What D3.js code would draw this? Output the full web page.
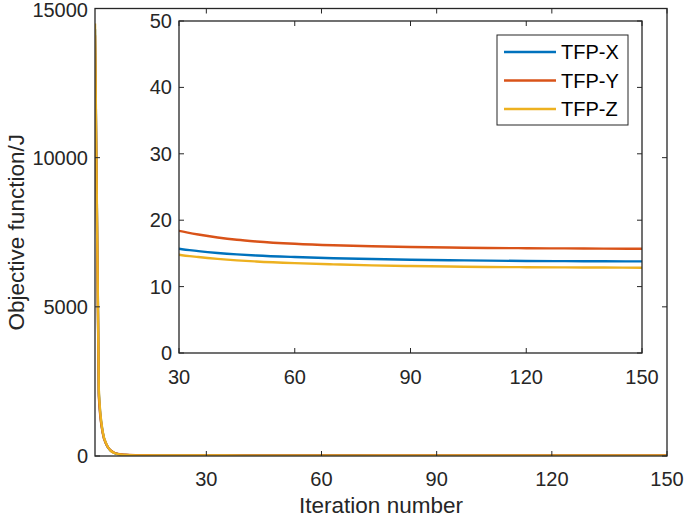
<!DOCTYPE html>
<html><head><meta charset="utf-8">
<script src="https://cdn.jsdelivr.net/npm/d3@7"></script>
<style>html,body{margin:0;padding:0;background:#fff;}svg{display:block;font-family:"Liberation Sans",Arial,Helvetica,sans-serif;}</style>
</head><body>
<svg id="chart" width="685" height="519"></svg>
<script>
const iterations = [1,2,3,4,5,6,7,8,9,10,12,15,20,25,30,35,40,45,50,60,70,80,90,100,110,120,130,140,150];
const tfpX = [14300,2100,800,380,190,105,65,45,35,29,23,19.5,17.5,16.3,15.7,15.35,15.07,14.85,14.68,14.45,14.28,14.15,14.05,13.97,13.91,13.86,13.83,13.81,13.8];
const tfpY = [14100,2000,780,380,195,110,70,50,40,33,27,23,20.5,19.1,18.4,17.85,17.4,17.05,16.8,16.45,16.22,16.07,15.96,15.88,15.82,15.78,15.75,15.72,15.7];
const tfpZ = [14500,2200,820,390,190,100,62,43,33,27,21.5,18.5,16.4,15.4,14.8,14.45,14.17,13.95,13.78,13.53,13.35,13.2,13.1,13.02,12.96,12.92,12.89,12.87,12.85];
const seriesNames = ["TFP-X","TFP-Y","TFP-Z"];
const seriesColors = ["#0072BD","#D95319","#EDB120"];
const mainXTicks = [30,60,90,120,150];
const mainYTicks = [0,5000,10000,15000];
const insetXTicks = [30,60,90,120,150];
const insetYTicks = [0,10,20,30,40,50];

const series = [tfpX,tfpY,tfpZ].map((vals,i)=>({name:seriesNames[i],color:seriesColors[i],
  pts: iterations.map((it,j)=>({x:it,y:vals[j]}))}));

const svg = d3.select("#chart");
const axisCol = "#262626";
const tickFont = 20;

const M = {l:95, r:667, t:8.5, b:456};
const x = d3.scaleLinear().domain([1,150]).range([M.l,M.r]);
const y = d3.scaleLinear().domain([0,15000]).range([M.b,M.t]);

function drawBox(g, xs, ys, xt, yt, tl, fs, opts){
  const [x0,x1] = xs.range(), [y0,y1] = ys.range();
  const ax = g.append("g");
  xt.forEach(v=>{
    const px = xs(v);
    ax.append("line").attr("x1",px).attr("x2",px).attr("y1",y0).attr("y2",y0-tl).attr("stroke",axisCol).attr("stroke-width",1);
    ax.append("line").attr("x1",px).attr("x2",px).attr("y1",y1).attr("y2",y1+tl).attr("stroke",axisCol).attr("stroke-width",1);
    ax.append("text").attr("x",px).attr("y",y0+opts.xlabOff).attr("text-anchor","middle").attr("dominant-baseline","central")
      .attr("font-size",fs).attr("fill",axisCol).text(v);
  });
  yt.forEach(v=>{
    const py = ys(v);
    ax.append("line").attr("x1",x0).attr("x2",x0+tl).attr("y1",py).attr("y2",py).attr("stroke",axisCol).attr("stroke-width",1);
    ax.append("line").attr("x1",x1).attr("x2",x1-tl).attr("y1",py).attr("y2",py).attr("stroke",axisCol).attr("stroke-width",1);
    ax.append("text").attr("x",x0-opts.ylabOff).attr("y",Math.max(py,opts.minY||0)).attr("text-anchor","end").attr("dominant-baseline","central")
      .attr("font-size",fs).attr("fill",axisCol).text(v);
  });
  ax.append("rect").attr("x",x0).attr("y",y1).attr("width",x1-x0).attr("height",y0-y1)
    .attr("fill","none").attr("stroke",axisCol).attr("stroke-width",1.3);
}

svg.append("rect").attr("x",M.l).attr("y",M.t).attr("width",M.r-M.l).attr("height",M.b-M.t).attr("fill","#fff");

const defs = svg.append("defs");
defs.append("clipPath").attr("id","mainClip").append("rect").attr("x",M.l).attr("y",M.t).attr("width",M.r-M.l).attr("height",M.b-M.t);

const lineMain = d3.line().x(d=>x(d.x)).y(d=>y(d.y)).curve(d3.curveMonotoneX);
const gm = svg.append("g").attr("clip-path","url(#mainClip)");
series.forEach(s=>{
  gm.append("path").attr("d",lineMain(s.pts)).attr("fill","none").attr("stroke",s.color).attr("stroke-width",2.4);
});
drawBox(svg, x, y, mainXTicks, mainYTicks, 5, tickFont, {xlabOff:23, ylabOff:7, minY:10});

svg.append("text").attr("x",(M.l+M.r)/2).attr("y",505).attr("text-anchor","middle").attr("dominant-baseline","central")
  .attr("font-size",22.5).attr("fill",axisCol).text("Iteration number");
svg.append("text").attr("transform",`translate(16,${(M.t+M.b)/2}) rotate(-90)`).attr("text-anchor","middle").attr("dominant-baseline","central")
  .attr("font-size",22.5).attr("fill",axisCol).text("Objective function/J");

const I = {l:179, r:642, t:21, b:353};
const xi = d3.scaleLinear().domain([30,150]).range([I.l,I.r]);
const yi = d3.scaleLinear().domain([0,50]).range([I.b,I.t]);
svg.append("rect").attr("x",I.l).attr("y",I.t).attr("width",I.r-I.l).attr("height",I.b-I.t).attr("fill","#fff");
defs.append("clipPath").attr("id","insetClip").append("rect").attr("x",I.l).attr("y",I.t).attr("width",I.r-I.l).attr("height",I.b-I.t);
const lineInset = d3.line().x(d=>xi(d.x)).y(d=>yi(d.y)).curve(d3.curveMonotoneX);
const gi = svg.append("g").attr("clip-path","url(#insetClip)");
series.forEach(s=>{
  gi.append("path").attr("d",lineInset(s.pts.filter(p=>p.x>=25))).attr("fill","none").attr("stroke",s.color).attr("stroke-width",2.4);
});
drawBox(svg, xi, yi, insetXTicks, insetYTicks, 5, tickFont, {xlabOff:24, ylabOff:7});

const L = {x:497, y:35, w:131, h:90};
const lg = svg.append("g");
lg.append("rect").attr("x",L.x).attr("y",L.y).attr("width",L.w).attr("height",L.h).attr("fill","#fff").attr("stroke",axisCol).attr("stroke-width",1);
series.forEach((s,i)=>{
  const ly = 52 + i*28.5;
  lg.append("line").attr("x1",504).attr("x2",556).attr("y1",ly).attr("y2",ly).attr("stroke",s.color).attr("stroke-width",2.4);
  lg.append("text").attr("x",561).attr("y",ly).attr("dominant-baseline","central").attr("font-size",20).attr("fill","#000").text(s.name);
});
</script>
</body></html>
